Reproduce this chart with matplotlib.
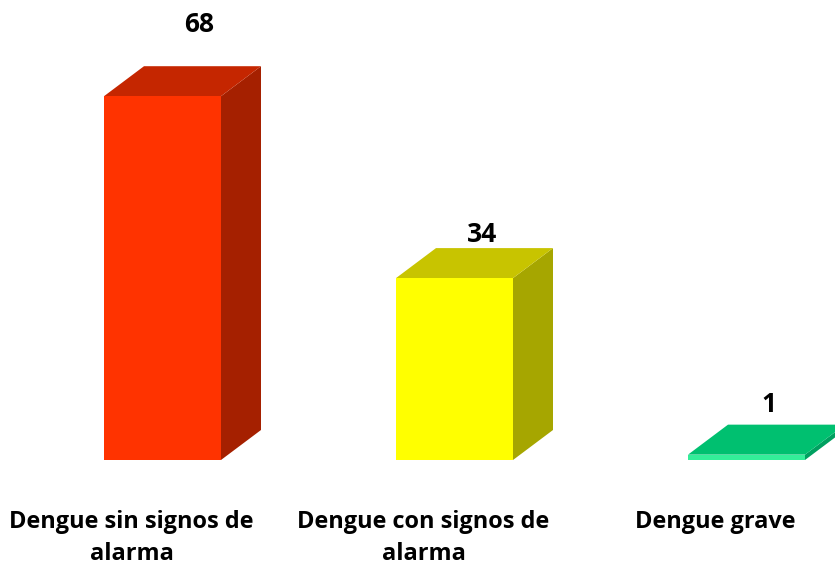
import matplotlib
matplotlib.use("Agg")
import matplotlib.pyplot as plt
from matplotlib.patches import Polygon

# data
categories = ["Dengue sin signos de\nalarma", "Dengue con signos de\nalarma", "Dengue grave"]
values = [68, 34, 1]

# colours per bar: front, top, side
front_colors = ["#FF3300", "#FFFF00", "#33EE99"]
top_colors = ["#C52600", "#C8C400", "#00C070"]
side_colors = ["#A52000", "#A6A600", "#00A060"]

# value label offsets in pixels (dx, dy) from the front top centre
label_offsets = [(37, 72), (28, 44), (22, 50)]

DPI = 100
fig = plt.figure(figsize=(8.35, 5.65), dpi=DPI)
ax = fig.add_axes([0, 0, 1, 1])

px_x = 292.0          # pixels per category step
px_y = 5.35           # pixels per unit value
base_px = 105.0       # baseline from bottom
ax.set_xlim(-162.5 / px_x, (835 - 162.5) / px_x)
ax.set_ylim(-base_px / px_y, (565 - base_px) / px_y)
ax.axis("off")

width = 117 / px_x
dx = 40 / px_x
dy = 30 / px_y

for i, (cat, val) in enumerate(zip(categories, values)):
    x0 = i - width / 2
    x1 = i + width / 2
    front = Polygon([(x0, 0), (x1, 0), (x1, val), (x0, val)], closed=True,
                    facecolor=front_colors[i], edgecolor="none")
    top = Polygon([(x0, val), (x1, val), (x1 + dx, val + dy), (x0 + dx, val + dy)],
                  closed=True, facecolor=top_colors[i], edgecolor="none")
    side = Polygon([(x1, 0), (x1 + dx, dy), (x1 + dx, val + dy), (x1, val)],
                   closed=True, facecolor=side_colors[i], edgecolor="none")
    for p in (side, top, front):
        ax.add_patch(p)

    ox, oy = label_offsets[i]
    ax.annotate(str(val), xy=(i, val), xytext=(ox * 72 / DPI, oy * 72 / DPI),
                textcoords="offset points", ha="center", va="center",
                fontsize=19, fontweight="bold", family="Open Sans")

    ax.text(i - 31 / px_x, -50 / px_y, cat, ha="center", va="top",
            fontsize=16.9, fontweight="bold", family="Open Sans", linespacing=1.45)

fig.savefig("out.png", dpi=DPI)
